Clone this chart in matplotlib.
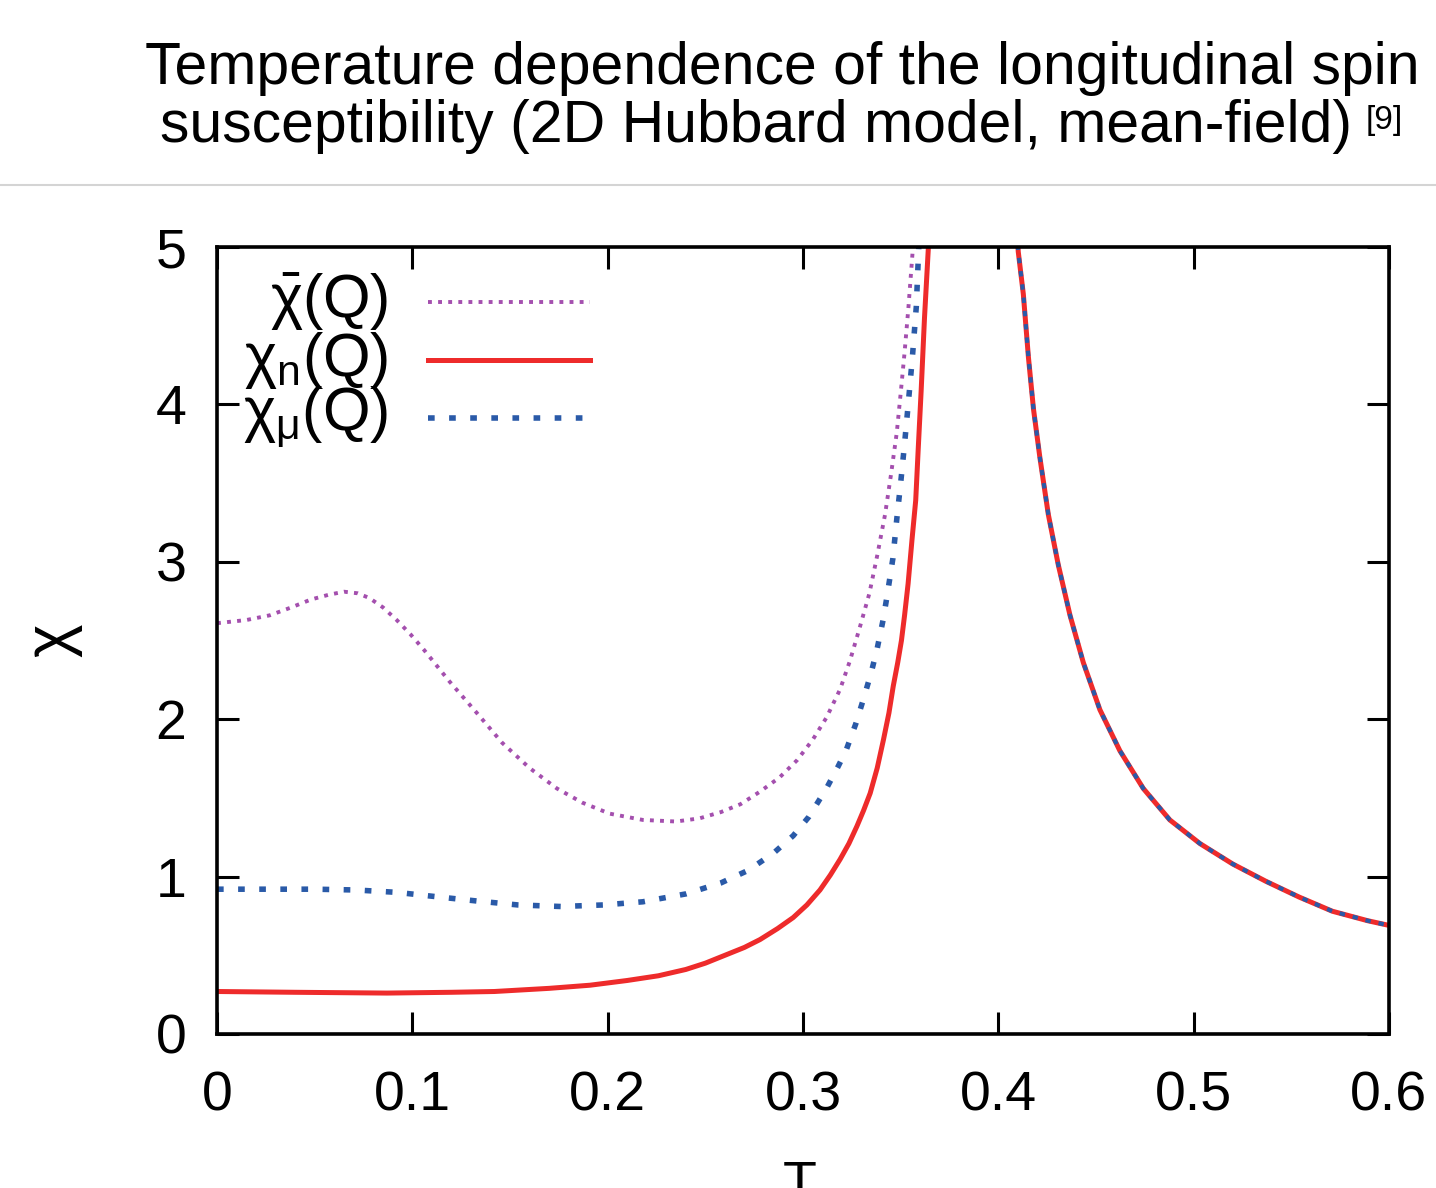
import numpy as np
import matplotlib
matplotlib.use("Agg")
import matplotlib.pyplot as plt
from matplotlib.lines import Line2D

plt.rcParams['font.family'] = ['Liberation Sans', 'DejaVu Sans']
plt.rcParams['mathtext.fontset'] = 'custom'
plt.rcParams['mathtext.rm'] = 'Liberation Sans'
plt.rcParams['mathtext.it'] = 'Liberation Sans'
plt.rcParams['mathtext.bf'] = 'Liberation Sans:bold'
plt.rcParams['mathtext.default'] = 'regular'

# -------------------------------
# Data
# -------------------------------

# chi_bar(Q), purple dotted
T_bar = [0.000, 0.015, 0.027, 0.038, 0.048, 0.057, 0.065, 0.072, 0.078, 0.085,
         0.092, 0.099, 0.106, 0.119, 0.133, 0.146, 0.160, 0.174, 0.187, 0.201,
         0.218, 0.235, 0.247, 0.258, 0.268, 0.278, 0.288, 0.297, 0.305, 0.312,
         0.319, 0.324, 0.329, 0.334, 0.338, 0.342, 0.345, 0.348, 0.350, 0.352,
         0.354, 0.356, 0.357]
chi_bar = [2.61, 2.63, 2.66, 2.71, 2.76, 2.79, 2.81, 2.80, 2.77, 2.71,
           2.63, 2.54, 2.44, 2.24, 2.04, 1.85, 1.69, 1.56, 1.47, 1.40,
           1.36, 1.35, 1.37, 1.41, 1.46, 1.54, 1.63, 1.74, 1.87, 2.01,
           2.19, 2.37, 2.58, 2.80, 3.04, 3.30, 3.55, 3.82, 4.07, 4.33,
           4.62, 4.95, 5.20]

# chi_mu(Q), blue dashed (low-T branch)
T_mu = [0.000, 0.025, 0.050, 0.071, 0.092, 0.114, 0.133, 0.154, 0.176, 0.198,
        0.218, 0.240, 0.258, 0.272, 0.285, 0.295, 0.303, 0.312, 0.318, 0.322,
        0.327, 0.331, 0.335, 0.338, 0.341, 0.343, 0.346, 0.348, 0.350, 0.352,
        0.354, 0.356, 0.358, 0.359, 0.360]
chi_mu = [0.92, 0.92, 0.92, 0.915, 0.90, 0.87, 0.845, 0.82, 0.81, 0.82,
          0.84, 0.89, 0.96, 1.04, 1.15, 1.26, 1.38, 1.56, 1.70, 1.80,
          1.97, 2.13, 2.30, 2.45, 2.63, 2.78, 3.02, 3.27, 3.50, 3.75,
          4.02, 4.30, 4.62, 4.92, 5.20]

# chi_n(Q), red solid (low-T branch)
T_n = [0.000, 0.040, 0.087, 0.120, 0.142, 0.170, 0.191, 0.210, 0.226, 0.240,
       0.250, 0.260, 0.270, 0.278, 0.287, 0.295, 0.302, 0.3087, 0.314, 0.319,
       0.3235, 0.3276, 0.331, 0.3344, 0.338, 0.3412, 0.344, 0.3462, 0.3485, 0.3504,
       0.352, 0.3538, 0.3558, 0.3577, 0.3590, 0.3605, 0.3622, 0.3642, 0.3650]
chi_n = [0.27, 0.265, 0.26, 0.265, 0.27, 0.29, 0.31, 0.34, 0.37, 0.41,
         0.45, 0.50, 0.55, 0.60, 0.67, 0.74, 0.82, 0.915, 1.01, 1.11,
         1.21, 1.32, 1.42, 1.53, 1.69, 1.87, 2.04, 2.21, 2.36, 2.50,
         2.66, 2.86, 3.14, 3.39, 3.72, 4.09, 4.55, 5.00, 5.20]

# high-T branch, chi_n and chi_mu coincide
T_high = [0.4095, 0.4102, 0.4128, 0.4154, 0.4180, 0.4213, 0.4256, 0.4307, 0.4367, 0.4435,
          0.4520, 0.4622, 0.4742, 0.4878, 0.5032, 0.520, 0.537, 0.554, 0.571, 0.589,
          0.600]
chi_high = [5.10, 4.97, 4.70, 4.30, 3.97, 3.66, 3.30, 2.98, 2.66, 2.36,
            2.06, 1.80, 1.56, 1.36, 1.21, 1.08, 0.97, 0.87, 0.78, 0.72,
            0.69]

x_ticks = [0, 0.1, 0.2, 0.3, 0.4, 0.5, 0.6]
x_tick_labels = ['0', '0.1', '0.2', '0.3', '0.4', '0.5', '0.6']
y_ticks = [0, 1, 2, 3, 4, 5]
labels = [r'$\bar{\chi}$(Q)', r'$\chi_{n}$(Q)', r'$\chi_{\mu}$(Q)']

purple = '#a44fae'
red = '#ee2b2b'
blue = '#2a5aa8'

# -------------------------------
# Figure
# -------------------------------

fig = plt.figure(figsize=(14.36, 11.88), dpi=100)
ax = fig.add_axes([217 / 1436, 1 - 1034 / 1188, 1172 / 1436, 787 / 1188])

purple_style = dict(color=purple, lw=2.8, linestyle=(0, (1.0, 1.6)))
red_style = dict(color=red, lw=3.6, solid_joinstyle='round')
blue_style = dict(color=blue, lw=4.0, linestyle=(0, (1.2, 2.6)))

ax.plot(T_n, chi_n, **red_style)
ax.plot(T_high, chi_high, **red_style)
ax.plot(T_bar, chi_bar, **purple_style)
ax.plot(T_mu, chi_mu, **blue_style)
ax.plot(T_high, chi_high, color=blue, lw=3.0, linestyle=(0, (1.3, 1.9)))

ax.set_xlim(0, 0.6)
ax.set_ylim(0, 5)
ax.set_xticks(x_ticks)
ax.set_xticklabels(x_tick_labels)
ax.set_yticks(y_ticks)
ax.tick_params(direction='in', length=16, width=2.2, labelsize=40,
               top=True, right=True)
ax.tick_params(axis='x', pad=26)
ax.tick_params(axis='y', pad=22)
for s in ax.spines.values():
    s.set_linewidth(2.6)

ax.set_ylabel(r'$\chi$', fontsize=46)
ax.yaxis.set_label_coords(-0.113, 0.50)
ax.set_xlabel('T', fontsize=40)
ax.xaxis.set_label_coords(0.497, -0.16)

# legend drawn by hand: right aligned labels, sample lines to the right
rows = [0.930, 0.856, 0.783]
for lab, st, yy in zip(labels, [purple_style, red_style, blue_style], rows):
    ax.text(0.146, yy, lab, transform=ax.transAxes, ha='right', va='center',
            fontsize=44)
    ax.add_line(Line2D([0.180, 0.318], [yy, yy], transform=ax.transAxes, **st))

# title block
fig.text(0.5446, 1 - 68 / 1188, 'Temperature dependence of the longitudinal spin',
         ha='center', va='center', fontsize=42.4)
fig.text(0.9415, 1 - 127 / 1188, 'susceptibility (2D Hubbard model, mean-field)',
         ha='right', va='center', fontsize=42.4)
fig.text(0.951, 1 - 121 / 1188, '[9]', ha='left', va='center', fontsize=24)
fig.add_artist(Line2D([0, 1], [1 - 185 / 1188, 1 - 185 / 1188],
                      transform=fig.transFigure, color='#d4d4d4', lw=1.5))

fig.savefig('out.png', dpi=100)
